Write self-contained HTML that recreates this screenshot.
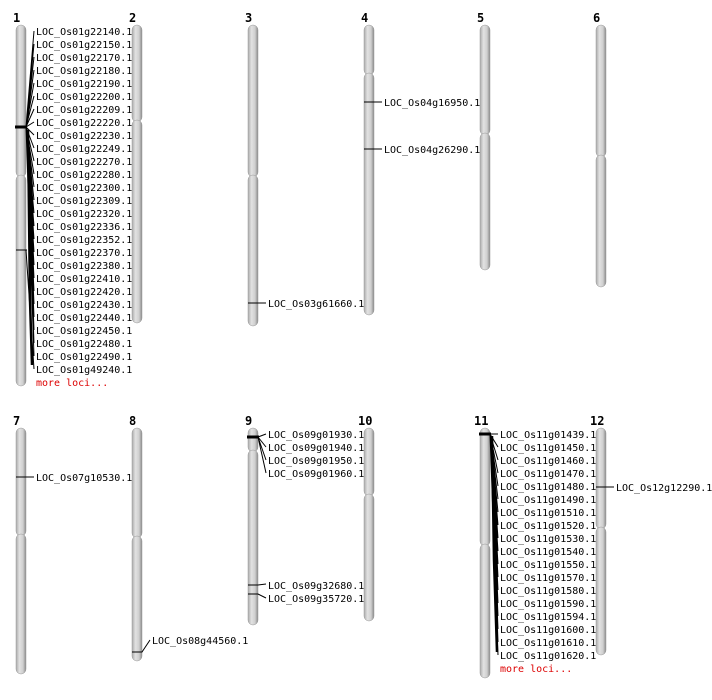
<!DOCTYPE html>
<html><head><style>body{margin:0;background:#fff}svg{display:block}</style></head><body>
<svg width="712" height="700" xmlns="http://www.w3.org/2000/svg" font-family="DejaVu Sans Mono, monospace">
<defs>
<linearGradient id="g" x1="0" x2="1" y1="0" y2="0">
<stop offset="0" stop-color="#aaa"/><stop offset="0.35" stop-color="#e2e2e2"/><stop offset="0.7" stop-color="#cfcfcf"/><stop offset="1" stop-color="#8a8a8a"/>
</linearGradient>
</defs>
<g fill="url(#g)" stroke="#999" stroke-width="0.5">
<!-- row1 -->
<rect x="16" y="25" width="10" height="152" rx="5"/><rect x="16" y="175" width="10" height="211" rx="5"/>
<rect x="132" y="25" width="10" height="97" rx="5"/><rect x="132" y="120" width="10" height="203" rx="5"/>
<rect x="248" y="25" width="10" height="152" rx="5"/><rect x="248" y="175" width="10" height="151" rx="5"/>
<rect x="364" y="25" width="10" height="50" rx="5"/><rect x="364" y="73" width="10" height="242" rx="5"/>
<rect x="480" y="25" width="10" height="110" rx="5"/><rect x="480" y="133" width="10" height="137" rx="5"/>
<rect x="596" y="25" width="10" height="132" rx="5"/><rect x="596" y="155" width="10" height="132" rx="5"/>
<!-- row2 -->
<rect x="16" y="428" width="10" height="108" rx="5"/><rect x="16" y="534" width="10" height="140" rx="5"/>
<rect x="132" y="428" width="10" height="110" rx="5"/><rect x="132" y="536" width="10" height="125" rx="5"/>
<rect x="248" y="428" width="10" height="24" rx="5"/><rect x="248" y="450" width="10" height="175" rx="5"/>
<rect x="364" y="428" width="10" height="68" rx="5"/><rect x="364" y="494" width="10" height="127" rx="5"/>
<rect x="480" y="428" width="10" height="118" rx="5"/><rect x="480" y="544" width="10" height="134" rx="5"/>
<rect x="596" y="428" width="10" height="101" rx="5"/><rect x="596" y="527" width="10" height="128" rx="5"/>
</g>
<g font-weight="bold" font-size="12" fill="#000">
<text x="13" y="22">1</text><text x="129" y="22">2</text><text x="245" y="22">3</text><text x="361" y="22">4</text><text x="477" y="22">5</text><text x="593" y="22">6</text>
<text x="13" y="425">7</text><text x="129" y="425">8</text><text x="245" y="425">9</text><text x="358" y="425">10</text><text x="474" y="425">11</text><text x="590" y="425">12</text>
</g>
<g stroke="#000" stroke-width="1" fill="none">
<line x1="15" y1="127" x2="27" y2="127" stroke-width="3"/>
<line x1="16" y1="250" x2="27" y2="250"/>
<path d="M26 127L34 31M26 127L34 44M26 127L34 57M26 127L34 70M26 127L34 83M26 127L34 96M26 127L34 109M26 127L34 122M26 127L34 135M26 127L34 148M26 127L34 161M26 127L34 174M26 127L34 187M26 127L34 200M26 127L34 213M26 127L34 226M26 127L34 239M26 127L34 252M26 127L34 265M26 127L34 278M26 127L34 291M26 127L34 304M26 127L34 317M26 127L34 330M26 127L34 343M26 127L34 356M26 250L34 369"/>
<path d="M28 130L30 300L32 365" stroke-width="2.5"/>
<line x1="248" y1="303" x2="266" y2="303"/>
<line x1="364" y1="102" x2="382" y2="102"/><line x1="364" y1="149" x2="382" y2="149"/>
<line x1="16" y1="477" x2="34" y2="477"/>
<path d="M132 652H142L150 640"/>
<line x1="247" y1="437" x2="259" y2="437" stroke-width="3"/>
<path d="M258 437L266 434M258 437L266 447M258 437L266 460M258 437L266 473"/>
<path d="M248 585H258L266 584M248 594H258L266 598"/>
<line x1="596" y1="487" x2="614" y2="487"/>
<line x1="479" y1="434" x2="491" y2="434" stroke-width="3"/>
<path d="M490 434L498 434M490 434L498 447M490 434L498 460M490 434L498 473M490 434L498 486M490 434L498 499M490 434L498 512M490 434L498 525M490 434L498 538M490 434L498 551M490 434L498 564M490 434L498 577M490 434L498 590M490 434L498 603M490 434L498 616M490 434L498 629M490 434L498 642M490 434L498 655"/>
<path d="M492 436L494 560L497 652" stroke-width="2.5"/>
</g>
<g font-size="10" fill="#000">
<text x="36" y="35">LOC_Os01g22140.1</text><text x="36" y="48">LOC_Os01g22150.1</text><text x="36" y="61">LOC_Os01g22170.1</text><text x="36" y="74">LOC_Os01g22180.1</text><text x="36" y="87">LOC_Os01g22190.1</text><text x="36" y="100">LOC_Os01g22200.1</text><text x="36" y="113">LOC_Os01g22209.1</text><text x="36" y="126">LOC_Os01g22220.1</text><text x="36" y="139">LOC_Os01g22230.1</text><text x="36" y="152">LOC_Os01g22249.1</text><text x="36" y="165">LOC_Os01g22270.1</text><text x="36" y="178">LOC_Os01g22280.1</text><text x="36" y="191">LOC_Os01g22300.1</text><text x="36" y="204">LOC_Os01g22309.1</text><text x="36" y="217">LOC_Os01g22320.1</text><text x="36" y="230">LOC_Os01g22336.1</text><text x="36" y="243">LOC_Os01g22352.1</text><text x="36" y="256">LOC_Os01g22370.1</text><text x="36" y="269">LOC_Os01g22380.1</text><text x="36" y="282">LOC_Os01g22410.1</text><text x="36" y="295">LOC_Os01g22420.1</text><text x="36" y="308">LOC_Os01g22430.1</text><text x="36" y="321">LOC_Os01g22440.1</text><text x="36" y="334">LOC_Os01g22450.1</text><text x="36" y="347">LOC_Os01g22480.1</text><text x="36" y="360">LOC_Os01g22490.1</text><text x="36" y="373">LOC_Os01g49240.1</text>
<text x="36" y="386" fill="#d00">more loci...</text>
<text x="268" y="307">LOC_Os03g61660.1</text>
<text x="384" y="106">LOC_Os04g16950.1</text><text x="384" y="153">LOC_Os04g26290.1</text>
<text x="36" y="481">LOC_Os07g10530.1</text>
<text x="152" y="644">LOC_Os08g44560.1</text>
<text x="268" y="438">LOC_Os09g01930.1</text><text x="268" y="451">LOC_Os09g01940.1</text><text x="268" y="464">LOC_Os09g01950.1</text><text x="268" y="477">LOC_Os09g01960.1</text>
<text x="268" y="589">LOC_Os09g32680.1</text><text x="268" y="602">LOC_Os09g35720.1</text>
<text x="616" y="491">LOC_Os12g12290.1</text>
<text x="500" y="438">LOC_Os11g01439.1</text><text x="500" y="451">LOC_Os11g01450.1</text><text x="500" y="464">LOC_Os11g01460.1</text><text x="500" y="477">LOC_Os11g01470.1</text><text x="500" y="490">LOC_Os11g01480.1</text><text x="500" y="503">LOC_Os11g01490.1</text><text x="500" y="516">LOC_Os11g01510.1</text><text x="500" y="529">LOC_Os11g01520.1</text><text x="500" y="542">LOC_Os11g01530.1</text><text x="500" y="555">LOC_Os11g01540.1</text><text x="500" y="568">LOC_Os11g01550.1</text><text x="500" y="581">LOC_Os11g01570.1</text><text x="500" y="594">LOC_Os11g01580.1</text><text x="500" y="607">LOC_Os11g01590.1</text><text x="500" y="620">LOC_Os11g01594.1</text><text x="500" y="633">LOC_Os11g01600.1</text><text x="500" y="646">LOC_Os11g01610.1</text><text x="500" y="659">LOC_Os11g01620.1</text>
<text x="500" y="672" fill="#d00">more loci...</text>
</g>
</svg>
</body></html>
